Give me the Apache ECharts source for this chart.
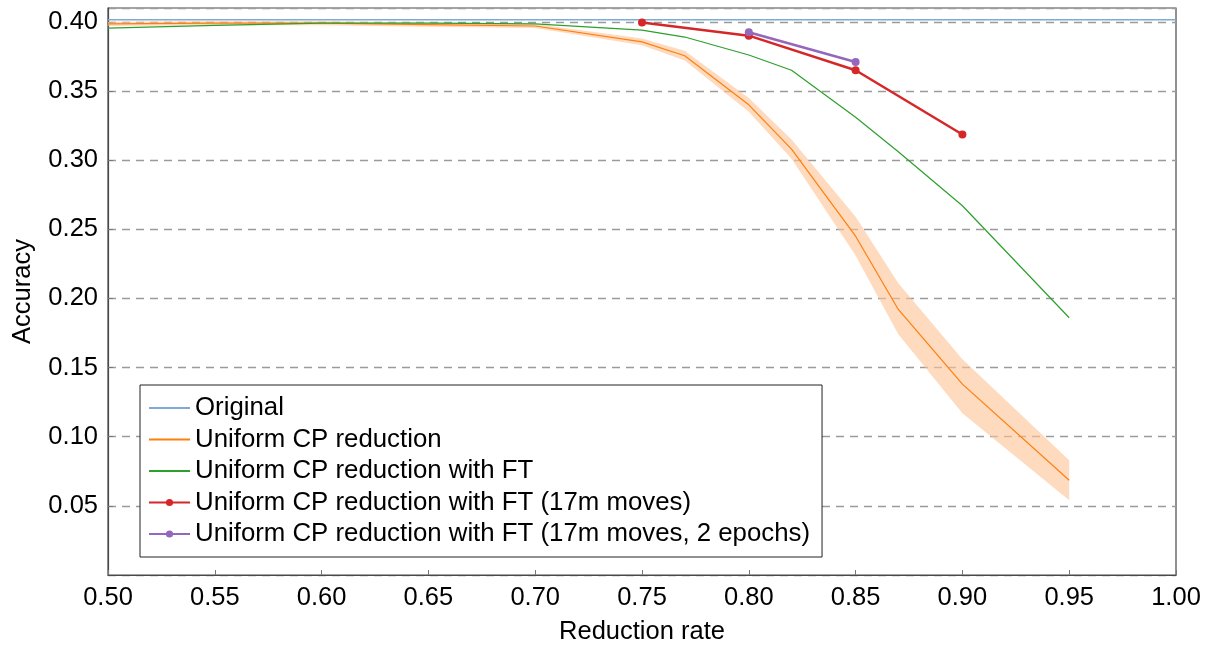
<!DOCTYPE html>
<html>
<head>
<meta charset="utf-8">
<script src="https://cdn.jsdelivr.net/npm/echarts@6/dist/echarts.min.js"></script>
<style>
  html, body { margin: 0; padding: 0; background: #fff; }
  #chart { width: 1216px; height: 646px; }
</style>
</head>
<body>
<div id="chart"></div>
<script>
// Reduction rates at which each configuration was evaluated
const rates = [0.50, 0.55, 0.60, 0.65, 0.70, 0.75, 0.77, 0.80, 0.82, 0.85, 0.87, 0.90, 0.95];

// Baseline accuracy of the unreduced model
const originalRates = [0.50, 1.00];
const originalAcc = [0.4015, 0.4015];

// Uniform CP reduction: mean accuracy and spread (lower / upper bound)
const uniformAcc = [0.3985, 0.399, 0.399, 0.398, 0.397, 0.3855, 0.3755, 0.340, 0.308, 0.245, 0.192, 0.138, 0.0685];
const uniformLow = [0.397, 0.3975, 0.3975, 0.3965, 0.3955, 0.383, 0.372, 0.335, 0.301, 0.231, 0.174, 0.117, 0.054];
const uniformHigh = [0.400, 0.4005, 0.4005, 0.3995, 0.3985, 0.388, 0.379, 0.345, 0.315, 0.259, 0.211, 0.156, 0.083];

// Uniform CP reduction followed by fine-tuning
const ftAcc = [0.3955, 0.3975, 0.399, 0.399, 0.3985, 0.394, 0.389, 0.376, 0.365, 0.331, 0.306, 0.267, 0.186];

// Fine-tuning on 17m moves
const ft17Rates = [0.75, 0.80, 0.85, 0.90];
const ft17Acc = [0.3995, 0.390, 0.365, 0.3185];

// Fine-tuning on 17m moves, 2 epochs
const ft17e2Rates = [0.80, 0.85];
const ft17e2Acc = [0.3925, 0.371];

// Axis ticks
const xTicks = ['0.50', '0.55', '0.60', '0.65', '0.70', '0.75', '0.80', '0.85', '0.90', '0.95', '1.00'];
const yTicks = ['0.05', '0.10', '0.15', '0.20', '0.25', '0.30', '0.35', '0.40'];

const names = [
  'Original',
  'Uniform CP reduction',
  'Uniform CP reduction with FT',
  'Uniform CP reduction with FT (17m moves)',
  'Uniform CP reduction with FT (17m moves, 2 epochs)'
];

const zip = (xs, ys) => xs.map((x, i) => [x, ys[i]]);
const FONT = '"Liberation Sans", Arial, Helvetica, sans-serif';
const FS = 25.5;

// band rows: [rate, low, high]
const bandData = rates.map((r, i) => [r, uniformLow[i], uniformHigh[i]]);

// Draw the spread band as one polygon: upper bound left→right, lower bound right→left
function renderBand(params, api) {
  if (params.dataIndex !== 0) return null;
  const upper = bandData.map(d => api.coord([d[0], d[2]]));
  const lower = bandData.map(d => api.coord([d[0], d[1]])).reverse();
  return {
    type: 'polygon',
    shape: { points: upper.concat(lower) },
    style: { fill: 'rgba(253, 196, 150, 0.62)', stroke: 'none' },
    silent: true
  };
}

const chart = echarts.init(document.getElementById('chart'), null, { renderer: 'canvas' });

chart.setOption({
  animation: false,
  backgroundColor: '#ffffff',
  grid: {
    left: 108, right: 40, top: 8, bottom: 71,
    outerBoundsMode: 'none',
    containLabel: false,
    show: true, borderColor: '#4a4a4a', borderWidth: 1.2, backgroundColor: 'transparent'
  },
  legend: {
    data: [
      { name: names[0], itemStyle: { opacity: 0 } },
      { name: names[1], itemStyle: { opacity: 0 } },
      { name: names[2], itemStyle: { opacity: 0 } },
      { name: names[3] },
      { name: names[4] }
    ],
    orient: 'vertical',
    left: 140,
    top: 385,
    padding: [10, 12, 10, 8],
    itemWidth: 41,
    itemHeight: 9,
    itemGap: 5.5,
    backgroundColor: '#ffffff',
    borderColor: '#222',
    borderWidth: 1,
    borderRadius: 0,
    textStyle: { fontFamily: FONT, fontSize: 25.8, color: '#000', lineHeight: 26 }
  },
  xAxis: {
    type: 'value',
    min: 0.5, max: 1.0, interval: 0.05,
    name: 'Reduction rate',
    nameLocation: 'middle',
    nameGap: 44,
    nameTextStyle: { fontFamily: FONT, fontSize: FS, color: '#000' },
    axisLine: { show: true, lineStyle: { color: '#4a4a4a', width: 1.2 } },
    axisTick: { show: true, inside: true, length: 5, lineStyle: { color: '#777' } },
    axisLabel: {
      fontFamily: FONT, fontSize: FS, color: '#000', margin: 10,
      formatter: v => {
        const s = v.toFixed(2);
        return xTicks.includes(s) ? s : '';
      }
    },
    splitLine: { show: false }
  },
  yAxis: {
    type: 'value',
    min: 0, max: 0.41, interval: 0.05,
    name: 'Accuracy',
    nameLocation: 'middle',
    nameRotate: 90,
    nameGap: 72,
    nameTextStyle: { fontFamily: FONT, fontSize: FS, color: '#000' },
    axisLine: { show: true, lineStyle: { color: '#4a4a4a', width: 1.2 } },
    axisTick: { show: true, inside: true, length: 5, lineStyle: { color: '#777' } },
    axisLabel: {
      fontFamily: FONT, fontSize: FS, color: '#000', margin: 10,
      showMinLabel: false, showMaxLabel: false,
      formatter: v => {
        const s = v.toFixed(2);
        return yTicks.includes(s) ? s : '';
      }
    },
    splitLine: { show: true, lineStyle: { color: '#9a9a9a', type: [8, 6], width: 1.4 } }
  },
  series: [
    {
      name: 'band',
      type: 'custom',
      renderItem: renderBand,
      data: bandData,
      encode: { x: 0, y: [1, 2] },
      silent: true,
      z: 1
    },
    {
      name: names[0],
      type: 'line',
      data: zip(originalRates, originalAcc),
      symbol: 'none',
      color: '#7eaad4',
      lineStyle: { width: 1.6, color: '#7eaad4' },
      z: 3
    },
    {
      name: names[1],
      type: 'line',
      data: zip(rates, uniformAcc),
      symbol: 'none',
      color: '#ff7f0e',
      lineStyle: { width: 1.2, color: '#ff7f0e' },
      z: 4
    },
    {
      name: names[2],
      type: 'line',
      data: zip(rates, ftAcc),
      symbol: 'none',
      color: '#2ca02c',
      lineStyle: { width: 1.2, color: '#2ca02c' },
      z: 4
    },
    {
      name: names[3],
      type: 'line',
      data: zip(ft17Rates, ft17Acc),
      symbol: 'circle',
      symbolSize: 8,
      color: '#d62728',
      itemStyle: { color: '#d62728' },
      lineStyle: { width: 2.5, color: '#d62728' },
      z: 5
    },
    {
      name: names[4],
      type: 'line',
      data: zip(ft17e2Rates, ft17e2Acc),
      symbol: 'circle',
      symbolSize: 8,
      color: '#9467bd',
      itemStyle: { color: '#9467bd' },
      lineStyle: { width: 2.5, color: '#9467bd' },
      z: 5
    }
  ]
});
</script>
</body>
</html>
